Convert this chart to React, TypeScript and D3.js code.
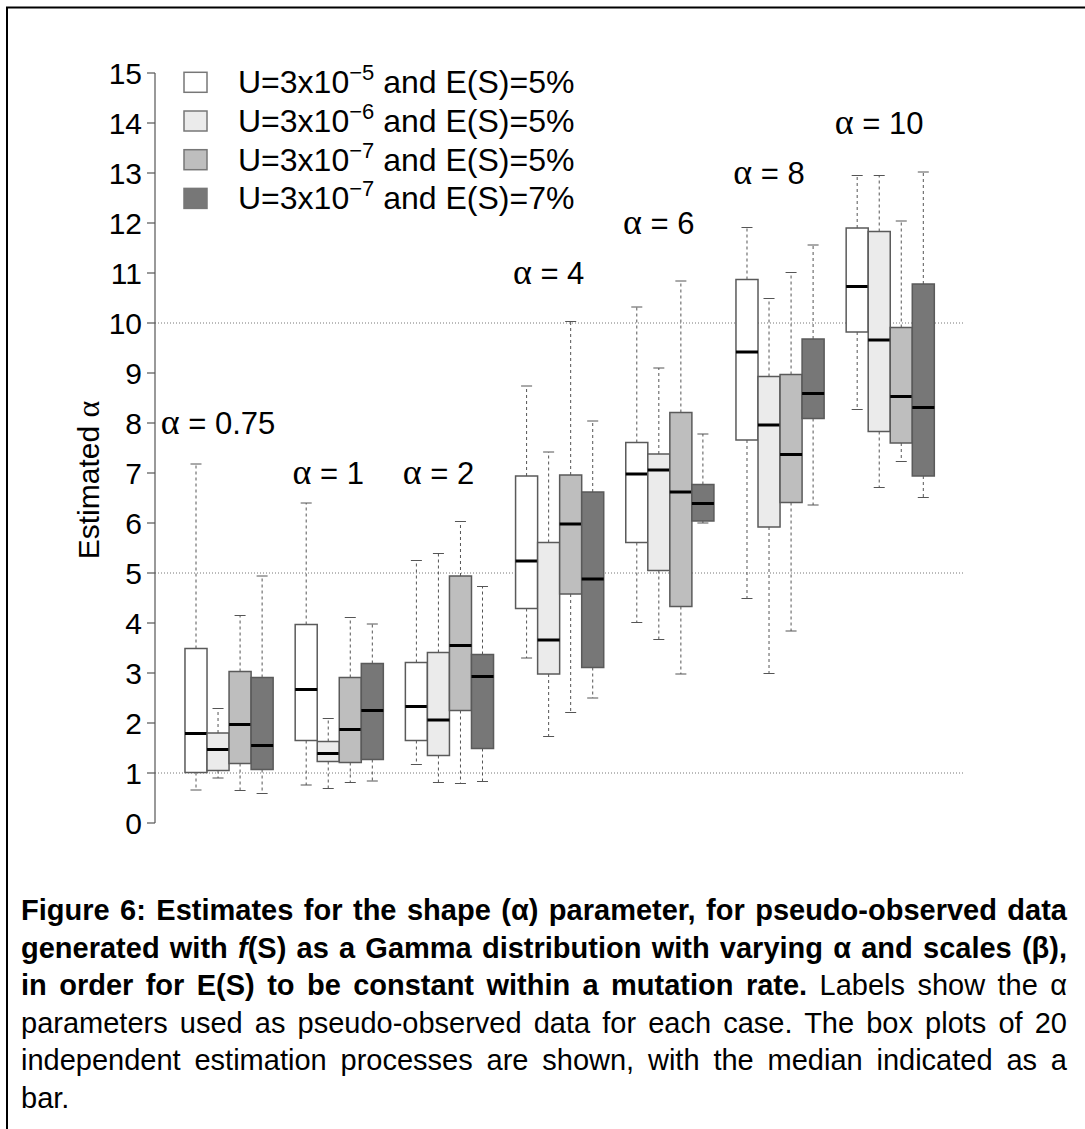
import React, { useEffect, useRef } from "react";
import * as d3 from "d3";

// groups (true alpha used for pseudo-observed data)
const groupLabels = ["0.75", "1", "2", "4", "6", "8", "10"];
const groupLabelY = [8, 7, 7, 11, 12, 13, 14];

const seriesExp = ["-5", "-6", "-7", "-7"];
const seriesES = ["5%", "5%", "5%", "7%"];
const seriesFill = ["#ffffff", "#ebebeb", "#bebebe", "#777777"];

// [lower whisker, q1, median, q3, upper whisker] for each group
const s1Stats = [
  [0.66, 1.01, 1.79, 3.49, 7.18],
  [0.76, 1.65, 2.67, 3.97, 6.4],
  [1.17, 1.65, 2.33, 3.21, 5.25],
  [3.3, 4.29, 5.24, 6.94, 8.74],
  [4.01, 5.61, 6.98, 7.61, 10.32],
  [4.49, 7.66, 9.42, 10.87, 11.91],
  [8.27, 9.82, 10.73, 11.9, 12.95],
];
const s2Stats = [
  [0.9, 1.05, 1.47, 1.8, 2.29],
  [0.69, 1.23, 1.39, 1.63, 2.09],
  [0.81, 1.35, 2.06, 3.41, 5.39],
  [1.73, 2.98, 3.66, 5.61, 7.42],
  [3.67, 5.05, 7.06, 7.38, 9.1],
  [2.99, 5.92, 7.96, 8.93, 10.49],
  [6.71, 7.83, 9.66, 11.83, 12.95],
];
const s3Stats = [
  [0.65, 1.19, 1.97, 3.03, 4.15],
  [0.81, 1.21, 1.87, 2.91, 4.11],
  [0.79, 2.25, 3.55, 4.94, 6.03],
  [2.21, 4.58, 5.98, 6.96, 10.03],
  [2.98, 4.33, 6.62, 8.21, 10.84],
  [3.84, 6.41, 7.37, 8.97, 11.01],
  [7.23, 7.6, 8.53, 9.91, 12.04],
];
const s4Stats = [
  [0.59, 1.07, 1.55, 2.91, 4.94],
  [0.84, 1.27, 2.25, 3.19, 3.98],
  [0.83, 1.49, 2.93, 3.37, 4.73],
  [2.5, 3.11, 4.88, 6.62, 8.04],
  [6.0, 6.04, 6.39, 6.77, 7.78],
  [6.36, 8.09, 8.59, 9.68, 11.56],
  [6.51, 6.94, 8.31, 10.78, 13.02],
];
const allStats = [s1Stats, s2Stats, s3Stats, s4Stats];

const yTicks = d3.range(0, 16);
const gridValues = [1, 5, 10];

type Seg = { t: string; b?: boolean; i?: boolean };
const captionLines: Seg[][] = [
  [{ t: "Figure 6: Estimates for the shape (α) parameter, for pseudo-observed data", b: true }],
  [
    { t: "generated with ", b: true },
    { t: "f", b: true, i: true },
    { t: "(S) as a Gamma distribution with varying α and scales (β),", b: true },
  ],
  [
    { t: "in order for E(S) to be constant within a mutation rate.", b: true },
    { t: " Labels show the α" },
  ],
  [{ t: "parameters used as pseudo-observed data for each case. The box plots of 20" }],
  [{ t: "independent estimation processes are shown, with the median indicated as a" }],
  [{ t: "bar." }],
];

const W = 1085;
const H = 1129;
const FONT = "'Liberation Sans', Arial, Helvetica, sans-serif";
const SYM = "'Liberation Serif', 'Times New Roman', serif";

export default function App() {
  const capRefs = useRef<(SVGTextElement | null)[]>([]);

  // R-style layout: box slots at positions 1..34, 5 slots per group
  const x = d3.scaleLinear().domain([1, 34]).range([196, 923.3]);
  const y = d3.scaleLinear().domain([0, 15]).range([823, 73]);
  const slot = x(2) - x(1);
  const half = slot / 2;
  const plotRight = x(35.85);
  const axisX = 155;

  const capLeft = 21;
  const capRight = 1067;
  const capTop = 920;
  const capStep = 37.5;

  useEffect(() => {
    // justify caption lines (except the last)
    capRefs.current.forEach((el, i) => {
      if (!el || i === captionLines.length - 1) return;
      el.setAttribute("word-spacing", "0");
      const natural = el.getComputedTextLength();
      const txt = el.textContent || "";
      const spaces = (txt.match(/ /g) || []).length;
      if (spaces > 0) {
        const extra = (capRight - capLeft - natural) / spaces;
        el.setAttribute("word-spacing", String(extra));
      }
    });
  }, []);

  const boxes: React.ReactNode[] = [];
  allStats.forEach((stats, s) => {
    stats.forEach((st, g) => {
      const [lo, q1, med, q3, hi] = st;
      const cx = x(1 + 5 * g + s);
      boxes.push(
        <g key={`b${s}-${g}`}>
          <line x1={cx} x2={cx} y1={y(q3)} y2={y(hi)} stroke="#555" strokeWidth={1} strokeDasharray="3 3" />
          <line x1={cx} x2={cx} y1={y(q1)} y2={y(lo)} stroke="#555" strokeWidth={1} strokeDasharray="3 3" />
          <line x1={cx - half / 2} x2={cx + half / 2} y1={y(hi)} y2={y(hi)} stroke="#555" strokeWidth={1} />
          <line x1={cx - half / 2} x2={cx + half / 2} y1={y(lo)} y2={y(lo)} stroke="#555" strokeWidth={1} />
          <rect
            x={cx - half}
            y={y(q3)}
            width={slot}
            height={y(q1) - y(q3)}
            fill={seriesFill[s]}
            stroke="#5a5a5a"
            strokeWidth={1.5}
          />
          <line x1={cx - half} x2={cx + half} y1={y(med)} y2={y(med)} stroke="#000" strokeWidth={3} />
        </g>
      );
    });
  });

  return (
    <svg width={W} height={H} style={{ position: "absolute", left: 0, top: 0, background: "#fff" }}>
      <rect x={0} y={0} width={W} height={H} fill="#fff" />
      <path d={`M7,${H} V7.5 H${W}`} fill="none" stroke="#000" strokeWidth={2} />

      {/* grid */}
      {gridValues.map((v) => (
        <line
          key={v}
          x1={axisX}
          x2={plotRight}
          y1={y(v)}
          y2={y(v)}
          stroke="#777"
          strokeWidth={1}
          strokeDasharray="1 2"
        />
      ))}

      {/* y axis */}
      <line x1={axisX} x2={axisX} y1={y(0)} y2={y(15)} stroke="#555" strokeWidth={1.2} />
      {yTicks.map((t) => (
        <g key={t}>
          <line x1={axisX - 8} x2={axisX} y1={y(t)} y2={y(t)} stroke="#555" strokeWidth={1.2} />
          <text x={142} y={y(t) + 11} textAnchor="end" fontFamily={FONT} fontSize={30} fill="#000">
            {t}
          </text>
        </g>
      ))}
      <text
        transform={`translate(99, 480) rotate(-90)`}
        textAnchor="middle"
        fontFamily={FONT}
        fontSize={30}
        fill="#000"
      >
        Estimated <tspan fontFamily={SYM} fontSize={32}>α</tspan>
      </text>

      {boxes}

      {/* alpha labels centred on the second box of each group */}
      {groupLabels.map((lab, g) => (
        <text
          key={lab}
          x={x(2 + 5 * g)}
          y={y(groupLabelY[g]) + 11}
          textAnchor="middle"
          fontFamily={FONT}
          fontSize={31}
          fill="#000"
        >
          <tspan fontFamily={SYM} fontSize={36}>α</tspan> = {lab}
        </text>
      ))}

      {/* legend */}
      {seriesFill.map((f, s) => {
        const cy = 82.3 + s * 38.7;
        return (
          <g key={s}>
            <rect x={184} y={cy - 10} width={23} height={20} fill={f} stroke="#777" strokeWidth={1.5} />
            <text x={238} y={cy + 11} fontFamily={FONT} fontSize={32} fill="#000">
              U=3x10
              <tspan dy={-13} fontSize={22}>
                {seriesExp[s].replace("-", "\u2212")}
              </tspan>
              <tspan dy={13}> and E(S)={seriesES[s]}</tspan>
            </text>
          </g>
        );
      })}

      {/* caption */}
      {captionLines.map((segs, i) => (
        <text
          key={i}
          ref={(el) => {
            capRefs.current[i] = el;
          }}
          x={capLeft}
          y={capTop + i * capStep}
          fontFamily={FONT}
          fontSize={29}
          fill="#000"
          style={{ whiteSpace: "pre" }}
        >
          {segs.map((sg, k) => (
            <tspan key={k} fontWeight={sg.b ? "bold" : "normal"} fontStyle={sg.i ? "italic" : "normal"}>
              {sg.t}
            </tspan>
          ))}
        </text>
      ))}
    </svg>
  );
}
